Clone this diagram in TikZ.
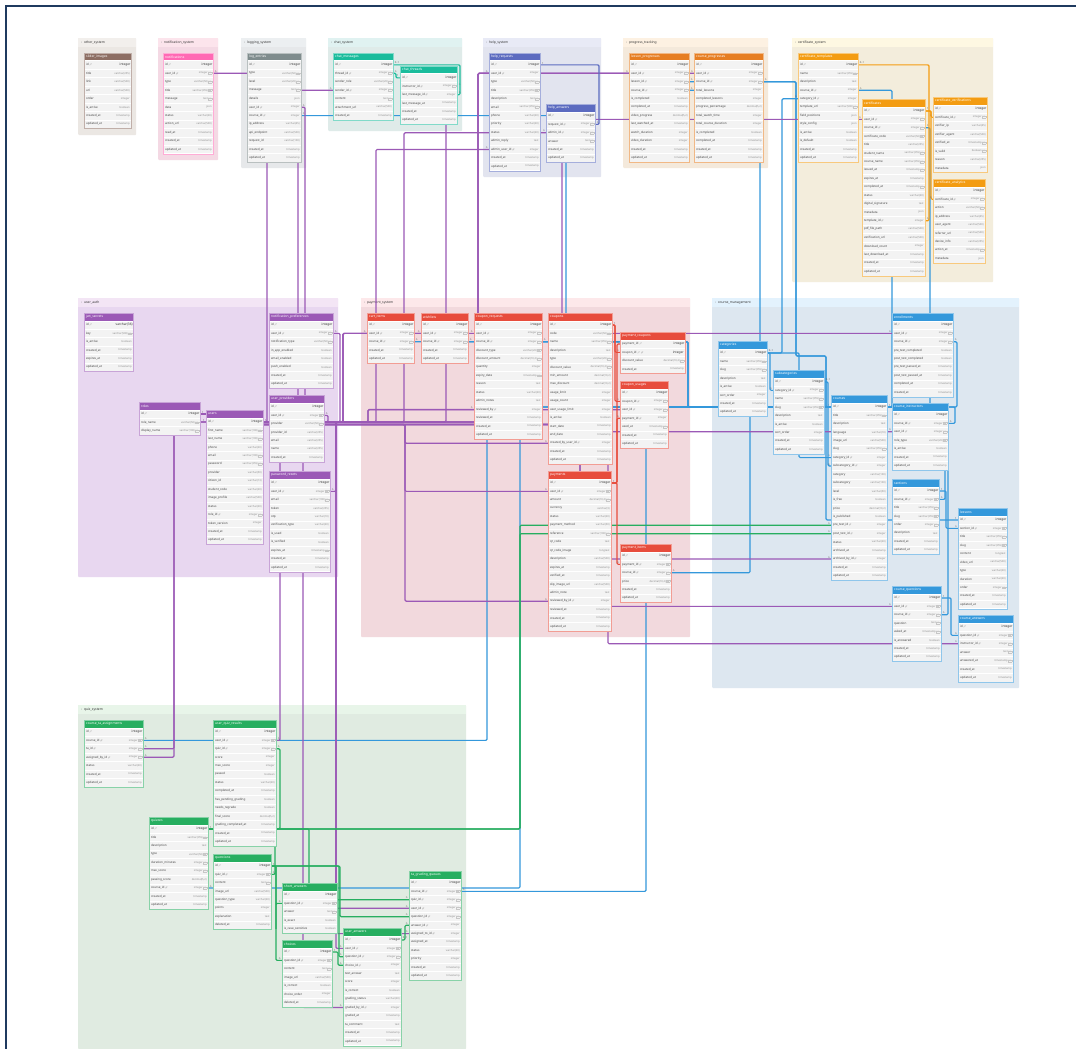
\documentclass[tikz,border=0pt]{standalone}
\usepackage{fontspec}
\setmainfont{Noto Sans}
\newfontfamily\emofont{Noto Emoji}
\pgfdeclarelayer{groups}
\pgfdeclarelayer{links}
\pgfsetlayers{groups,links,main}
% header colours
\definecolor{cSlider}{HTML}{8D6E63}
\definecolor{cNotif}{HTML}{FF69B4}
\definecolor{cLog}{HTML}{7F8C8D}
\definecolor{cChat}{HTML}{1ABC9C}
\definecolor{cHelp}{HTML}{5C6BC0}
\definecolor{cProg}{HTML}{E67E22}
\definecolor{cCert}{HTML}{F39C12}
\definecolor{cAuth}{HTML}{9B59B6}
\definecolor{cPay}{HTML}{E74C3C}
\definecolor{cCourse}{HTML}{3498DB}
\definecolor{cQuiz}{HTML}{27AE60}
% group colours
\definecolor{gOther}{HTML}{EBE7E3}\definecolor{bOther}{HTML}{F2EFEC}
\definecolor{gNotif}{HTML}{F4D9E4}\definecolor{bNotif}{HTML}{FCE4EC}
\definecolor{gLog}{HTML}{E6E8EA}\definecolor{bLog}{HTML}{ECEFF1}
\definecolor{gChat}{HTML}{DFEBE9}\definecolor{bChat}{HTML}{E0F2F1}
\definecolor{gHelp}{HTML}{E2E4EF}\definecolor{bHelp}{HTML}{E8EAF6}
\definecolor{gProg}{HTML}{F4E9DB}\definecolor{bProg}{HTML}{FDF1E2}
\definecolor{gCert}{HTML}{F3EDDC}\definecolor{bCert}{HTML}{FEF8E2}
\definecolor{gAuth}{HTML}{E8D7F0}\definecolor{bAuth}{HTML}{F3E5F5}
\definecolor{gPay}{HTML}{F2D9DD}\definecolor{bPay}{HTML}{FDE8EA}
\definecolor{gCourse}{HTML}{DDE7F0}\definecolor{bCourse}{HTML}{E3F2FD}
\definecolor{gQuiz}{HTML}{E0EBE1}\definecolor{bQuiz}{HTML}{E8F5E9}
\definecolor{frameC}{HTML}{1F3A5F}
\definecolor{rowC}{HTML}{F3F3F3}

\newcommand\NN{\kern0.5pt{\fboxsep=0.2pt\fboxrule=0.12pt\fcolorbox{black!22}{black!5}{\fontsize{1.8}{1.8}\selectfont\color{black!45}NN}}}
\newcommand\FK{\kern0.6pt{\emofont\fontsize{2.1}{2.1}\selectfont\color{black!50}🔗}}
\newcommand\PK{\kern0.8pt{\emofont\fontsize{2.2}{2.2}\selectfont\color{black!50}🔑}}
\newcommand\B[1]{{\fontsize{3.2}{3.4}\selectfont\bfseries\color{black!80}#1}}

\tikzset{
  thead/.style={inner sep=0pt, minimum height=7.5pt},
  ttitle/.style={inner sep=0pt, text=white, font=\fontsize{3.3}{3.5}\selectfont},
  trow/.style={inner sep=0pt, minimum height=8.45pt, fill=rowC, draw=white, line width=0.35pt},
  fname/.style={inner sep=0pt, text=black!72, font=\fontsize{3}{3.2}\selectfont},
  ftype/.style={inner sep=0pt, text=black!45, font=\fontsize{2.6}{2.8}\selectfont},
  ftypepk/.style={inner sep=0pt, text=black!80, font=\fontsize{3.2}{3.4}\selectfont\bfseries},
  tframe/.style={line width=0.35pt},
  grpbox/.style={inner sep=0pt, rounded corners=1pt},
  glabel/.style={inner sep=0pt, text=black!80, font=\fontsize{3.3}{3.5}\selectfont\bfseries},
  rel/.style={line width=1.2pt, rounded corners=1.2pt},
  pu/.style={rel, draw=cAuth},
  bl/.style={rel, draw=cCourse},
  gr/.style={rel, draw=cQuiz},
  rd/.style={rel, draw=cPay},
  orr/.style={rel, draw=cCert},
  te/.style={rel, draw=cChat},
  ind/.style={rel, draw=cHelp},
  card/.style={inner sep=0.3pt, text=black!65, font=\fontsize{2.6}{2.6}\selectfont},
  ae/.style={card, anchor=south west, xshift=0.5pt},
  aw/.style={card, anchor=south east, xshift=-0.5pt},
  frameline/.style={draw=frameC, line width=2.3pt}
}

\catcode`\_=12

% table: name, x, y(top), width, colour, rows
\newcommand\erT[6]{%
  \node[thead, fill=#5, minimum width=#4pt, anchor=north west] (#1) at (#2,#3) {};
  \node[ttitle, anchor=west] (#1-title) at ([xshift=2pt]#1.west) {#1};
  \foreach \f/\t [count=\i] in {#6}{%
    \node[trow, minimum width=#4pt, anchor=north west] (#1-\i) at (#2,{#3+7.5+(\i-1)*8.45}) {};
    \ifnum\i=1
      \node[fname, anchor=west] (#1-\i-n) at ([xshift=1.8pt]#1-\i.west) {\f\PK};
      \node[ftypepk, anchor=east] (#1-\i-t) at ([xshift=-0.6pt]#1-\i.east) {\t};
    \else
      \node[fname, anchor=west] (#1-\i-n) at ([xshift=1.8pt]#1-\i.west) {\f};
      \node[ftype, anchor=east] (#1-\i-t) at ([xshift=-1.5pt]#1-\i.east) {\t};
    \fi
    \xdef\erLast{\i}%
  }
  \draw[tframe, draw=#5!55] (#1.north west) rectangle (#1-\erLast.south east);
}
% group: name, x1, y1, x2, y2, body colour, band colour
\newcommand\erG[7]{%
  \node[grpbox, fill=#6, minimum width={#4pt-#2pt}, minimum height={#5pt-#3pt}, anchor=north west] (#1) at (#2,#3) {};
  \node[inner sep=0pt, fill=#7, minimum width={#4pt-#2pt}, minimum height=9pt, anchor=north west] (#1-band) at (#2,#3) {};
  \node[glabel, anchor=west] (#1-label) at ([xshift=3pt]#1-band.west) {\textcolor{black!45}{›}\hspace{1.8pt}#1};
}

\begin{document}
\begin{tikzpicture}[x=1pt, y=-1pt]
\useasboundingbox (0,0) rectangle (1076,1049);

\begin{pgfonlayer}{groups}
\fill[white] (0,0) rectangle (1076,1049);
\erG{other_system}{78}{38}{136}{135}{gOther}{bOther}
\erG{notification_system}{158}{38}{218}{160}{gNotif}{bNotif}
\erG{logging_system}{241}{38}{306}{168}{gLog}{bLog}
\erG{chat_system}{328}{38}{462}{131}{gChat}{bChat}
\erG{help_system}{483}{38}{601}{177}{gHelp}{bHelp}
\erG{progress_tracking}{623}{38}{768}{168}{gProg}{bProg}
\erG{certificate_system}{792}{38}{993}{282}{gCert}{bCert}
\erG{user_auth}{78}{298}{338}{577}{gAuth}{bAuth}
\erG{payment_system}{361}{298}{690}{637}{gPay}{bPay}
\erG{course_management}{712}{298}{1019}{688}{gCourse}{bCourse}
\erG{quiz_system}{78}{705}{466}{1049}{gQuiz}{bQuiz}
\draw[frameline] (6,1049) -- (6,6) -- (1076,6);
\end{pgfonlayer}

% ---------------- tables ----------------
\erT{slider_images}{84}{53}{47}{cSlider}{id/integer, title/varchar(255), link/varchar(500), url/varchar(500), order/integer, is_active/boolean, created_at/timestamp, updated_at/timestamp}
\erT{notifications}{163}{53}{50}{cNotif}{id/integer, user_id\FK/integer\NN, type/varchar(50)\NN, title/varchar(255)\NN, message/text\NN, data/json, status/varchar(20), action_url/varchar(500), read_at/timestamp, created_at/timestamp, updated_at/timestamp}
\erT{log_entries}{247}{53}{54}{cLog}{id/integer, type/varchar(50)\NN, level/varchar(20)\NN, message/text\NN, details/json, user_id\FK/integer, course_id\FK/integer, ip_address/varchar(45), api_endpoint/varchar(500), request_id/varchar(100), created_at/timestamp, updated_at/timestamp}
\erT{chat_messages}{333}{53}{60}{cChat}{id/integer, thread_id\FK/integer\NN, sender_role/varchar(20)\NN, sender_id\FK/integer\NN, content/text\NN, attachment_url/varchar(500), created_at/timestamp}
\erT{chat_threads}{400}{66}{57}{cChat}{id/integer, instructor_id\FK/integer\NN, last_message_id\FK/integer, last_message_at/timestamp, created_at/timestamp, updated_at/timestamp}
\erT{help_requests}{489}{53}{51}{cHelp}{id/integer, user_id\FK/integer, type/varchar(50)\NN, title/varchar(255)\NN, description/text\NN, email/varchar(255)\NN, phone/varchar(20), priority/varchar(20), status/varchar(20), admin_reply/text, admin_user_id\FK/integer, created_at/timestamp, updated_at/timestamp}
\erT{help_answers}{546}{104}{49}{cHelp}{id/integer, request_id\FK/integer\NN, admin_id\FK/integer\NN, answer/text\NN, created_at/timestamp, updated_at/timestamp}
\erT{lesson_progresses}{629}{53}{60}{cProg}{id/integer, user_id\FK/integer\NN, lesson_id\FK/integer\NN, course_id\FK/integer\NN, is_completed/boolean, completed_at/timestamp, video_progress/{decimal(5,2)}, last_watched_at/timestamp, watch_duration/integer, video_duration/integer, created_at/timestamp, updated_at/timestamp}
\erT{course_progresses}{694}{53}{69}{cProg}{id/integer, user_id\FK/integer\NN, course_id\FK/integer\NN, total_lessons/integer, completed_lessons/integer, progress_percentage/{decimal(5,2)}, total_watch_time/integer, total_course_duration/integer, is_completed/boolean, completed_at/timestamp, created_at/timestamp, updated_at/timestamp}
\erT{certificate_templates}{798}{53}{60}{cCert}{id/integer, name/varchar(255)\NN, description/text, course_id\FK/integer, category_id\FK/integer, template_url/varchar(500)\NN, field_positions/json, style_config/json, is_active/boolean, is_default/boolean, created_at/timestamp, updated_at/timestamp}
\erT{certificates}{862}{99}{63}{cCert}{id/integer, user_id\FK/integer\NN, course_id\FK/integer\NN, certificate_code/varchar(50)\NN, title/varchar(255), student_name/varchar(255)\NN, course_name/varchar(255)\NN, issued_at/timestamp\NN, expires_at/timestamp, completed_at/timestamp\NN, status/varchar(20), digital_signature/text, metadata/json, template_id\FK/integer, pdf_file_path/varchar(500), verification_url/varchar(500), download_count/integer, last_download_at/timestamp, created_at/timestamp, updated_at/timestamp}
\erT{certificate_verifications}{933}{97}{54}{cCert}{id/integer, certificate_id\FK/integer\NN, verifier_ip/varchar(45), verifier_agent/varchar(500), verified_at/timestamp\NN, is_valid/boolean\NN, reason/varchar(255), metadata/json}
\erT{certificate_analytics}{933}{179}{52}{cCert}{id/integer, certificate_id\FK/integer\NN, action/varchar(50)\NN, ip_address/varchar(45), user_agent/varchar(500), referrer_url/varchar(500), device_info/varchar(255), action_at/timestamp\NN, metadata/json}

\erT{jwt_secrets}{84}{313}{49}{cAuth}{id/varchar(36), key/varchar(500)\NN, is_active/boolean, created_at/timestamp, expires_at/timestamp, updated_at/timestamp}
\erT{roles}{139}{402}{61}{cAuth}{id/integer, role_name/varchar(50)\NN, display_name/varchar(100)\NN}
\erT{users}{206}{410}{57}{cAuth}{id/integer, first_name/varchar(100)\NN, last_name/varchar(100)\NN, phone/varchar(20), email/varchar(100)\NN, password/varchar(255)\NN, provider/varchar(50), citizen_id/varchar(13), student_code/varchar(20), image_profile/varchar(500), status/varchar(20), role_id\FK/integer\NN, token_version/integer, created_at/timestamp, updated_at/timestamp}
\erT{notification_preferences}{269}{313}{64}{cAuth}{id/integer, user_id\FK/integer\NN, notification_type/varchar(50)\NN, in_app_enabled/boolean, email_enabled/boolean, push_enabled/boolean, created_at/timestamp, updated_at/timestamp}
\erT{user_providers}{269}{395}{55}{cAuth}{id/integer, user_id\FK/integer\NN, provider/varchar(50)\NN, provider_id/varchar(255), email/varchar(255), name/varchar(255), created_at/timestamp}
\erT{password_resets}{269}{471}{61}{cAuth}{id/integer, user_id\FK/integer\NN, email/varchar(100)\NN, token/varchar(255), otp/varchar(10), verification_type/varchar(20), is_used/boolean, is_verified/boolean, expires_at/timestamp\NN, created_at/timestamp, updated_at/timestamp}

\erT{cart_items}{367}{313}{47}{cPay}{id/integer, user_id\FK/integer\NN, course_id\FK/integer\NN, created_at/timestamp, updated_at/timestamp}
\erT{wishlists}{421}{313}{47}{cPay}{id/integer, user_id\FK/integer\NN, course_id\FK/integer\NN, created_at/timestamp, updated_at/timestamp}
\erT{coupon_requests}{474}{313}{68}{cPay}{id/integer, user_id\FK/integer\NN, course_id\FK/integer\NN, discount_type/varchar(20)\NN, discount_amount/{decimal(10,2)\NN}, quantity/integer, expiry_date/timestamp\NN, reason/text, status/varchar(20), admin_notes/text, reviewed_by\FK/integer, reviewed_at/timestamp, created_at/timestamp, updated_at/timestamp}
\erT{coupons}{548}{313}{64}{cPay}{id/integer, code/varchar(50)\NN, name/varchar(255)\NN, description/text, type/varchar(20)\NN, discount_value/{decimal(10,2)\NN}, min_amount/{decimal(10,2)}, max_discount/{decimal(10,2)}, usage_limit/integer, usage_count/integer, user_usage_limit/integer, is_active/boolean, start_date/timestamp, end_date/timestamp, created_by_user_id\FK/integer, created_at/timestamp, updated_at/timestamp}
\erT{payment_coupons}{620}{332}{65}{cPay}{payment_id/integer, coupon_id\PK\FK/\B{integer}, discount_value/{decimal(10,2)\NN}, created_at/timestamp}
\erT{coupon_usages}{620}{381}{48}{cPay}{id/integer, coupon_id\FK/integer\NN, user_id\FK/integer\NN, payment_id\FK/integer, used_at/timestamp\NN, created_at/timestamp, updated_at/timestamp}
\erT{payments}{548}{471}{63}{cPay}{id/integer, user_id\FK/integer\NN, amount/{decimal(10,2)\NN}, currency/varchar(3), status/varchar(20), payment_method/varchar(50), reference/varchar(100)\NN, qr_code/text, qr_code_image/longtext, description/varchar(500), expires_at/timestamp, verified_at/timestamp, slip_image_url/varchar(500), admin_note/text, reviewed_by_id\FK/integer, reviewed_at/timestamp, created_at/timestamp, updated_at/timestamp}
\erT{payment_items}{620}{544}{51}{cPay}{id/integer, payment_id\FK/integer\NN, course_id\FK/integer\NN, price/{decimal(10,2)\NN}, created_at/timestamp, updated_at/timestamp}

\erT{categories}{718}{341}{49}{cCourse}{id/integer, name/varchar(255)\NN, slug/varchar(255)\NN, description/text, is_active/boolean, sort_order/integer, created_at/timestamp, updated_at/timestamp}
\erT{subcategories}{773}{370}{51}{cCourse}{id/integer, category_id\FK/integer\NN, name/varchar(255)\NN, slug/varchar(255)\NN, description/text, is_active/boolean, sort_order/integer, created_at/timestamp, updated_at/timestamp}
\erT{courses}{831}{395}{56}{cCourse}{id/integer, title/varchar(255)\NN, description/text, language/varchar(10), image_url/varchar(500), slug/varchar(255)\NN, category_id\FK/integer, subcategory_id\FK/integer, category/varchar(100), subcategory/varchar(100), level/varchar(50), is_free/boolean, price/{decimal(10,2)}, is_published/boolean, pre_test_id\FK/integer, post_test_id\FK/integer, status/varchar(20), archived_at/timestamp, archived_by_id\FK/integer, created_at/timestamp, updated_at/timestamp}
\erT{enrollments}{892}{313}{61}{cCourse}{id/integer, user_id\FK/integer\NN, course_id\FK/integer\NN, pre_test_completed/boolean, post_test_completed/boolean, pre_test_passed_at/timestamp, post_test_passed_at/timestamp, completed_at/timestamp, created_at/timestamp}
\erT{course_instructors}{892}{403}{56}{cCourse}{id/integer, course_id\FK/integer\NN, user_id\FK/integer\NN, role_type/varchar(20)\NN, is_active/boolean, created_at/timestamp, updated_at/timestamp}
\erT{sections}{892}{479}{47}{cCourse}{id/integer, course_id\FK/integer\NN, title/varchar(255)\NN, slug/varchar(255)\NN, order/integer\NN, description/text, created_at/timestamp, updated_at/timestamp}
\erT{lessons}{958}{508}{49}{cCourse}{id/integer, section_id\FK/integer\NN, title/varchar(255)\NN, slug/varchar(255)\NN, content/longtext, video_url/varchar(500), type/varchar(20), duration/varchar(20), order/integer\NN, created_at/timestamp, updated_at/timestamp}
\erT{course_questions}{892}{586}{49}{cCourse}{id/integer, user_id\FK/integer\NN, course_id\FK/integer\NN, question/text\NN, asked_at/timestamp\NN, is_answered/boolean, created_at/timestamp, updated_at/timestamp}
\erT{course_answers}{958}{615}{55}{cCourse}{id/integer, question_id\FK/integer\NN, instructor_id\FK/integer\NN, answer/text\NN, answered_at/timestamp\NN, created_at/timestamp, updated_at/timestamp}

\erT{course_ta_assignments}{84}{720}{59}{cQuiz}{id/integer, course_id\FK/integer\NN, ta_id\FK/integer\NN, assigned_by_id\FK/integer\NN, status/varchar(20), created_at/timestamp, updated_at/timestamp}
\erT{user_quiz_results}{213}{720}{63}{cQuiz}{id/integer, user_id\FK/integer\NN, quiz_id\FK/integer\NN, score/integer, max_score/integer, passed/boolean, status/varchar(20), completed_at/timestamp, has_pending_grading/boolean, needs_regrade/boolean, final_score/{decimal(5,2)}, grading_completed_at/timestamp, created_at/timestamp, updated_at/timestamp}
\erT{quizzes}{149}{817}{59}{cQuiz}{id/integer, title/varchar(255)\NN, description/text, type/varchar(50)\NN, duration_minutes/integer\NN, max_score/integer\NN, passing_score/{decimal(5,2)}, course_id\FK/integer\NN, created_at/timestamp, updated_at/timestamp}
\erT{questions}{213}{854}{58}{cQuiz}{id/integer, quiz_id\FK/integer\NN, content/text\NN, image_url/varchar(500), question_type/varchar(20), points/integer, explanation/text, deleted_at/timestamp}
\erT{short_answers}{282}{883}{55}{cQuiz}{id/integer, question_id\FK/integer\NN, answer/text\NN, is_exact/boolean, is_case_sensitive/boolean}
\erT{choices}{282}{940}{50}{cQuiz}{id/integer, question_id\FK/integer\NN, content/text\NN, image_url/varchar(500), is_correct/boolean, choice_order/integer, deleted_at/timestamp}
\erT{user_answers}{343}{928}{58}{cQuiz}{id/integer, user_id\FK/integer\NN, question_id\FK/integer\NN, choice_id\FK/integer, text_answer/text, score/integer, is_correct/boolean, grading_status/varchar(20), graded_by_id\FK/integer, graded_at/timestamp, ta_comment/text, created_at/timestamp, updated_at/timestamp}
\erT{ta_grading_queues}{409}{871}{52}{cQuiz}{id/integer, course_id\FK/integer\NN, quiz_id\FK/integer\NN, user_id\FK/integer\NN, question_id\FK/integer\NN, answer_id\FK/integer, assigned_to_id\FK/integer, assigned_at/timestamp, status/varchar(20), priority/integer, created_at/timestamp, updated_at/timestamp}

% ---------------- connectors ----------------
\begin{pgfonlayer}{links}
% blue: course relations
\draw[bl] (log_entries-7.east) node[ae]{n} -| (566,300) |- (courses-1.west) node[aw]{1};
\draw[bl] (cart_items-3.east) node[ae]{n} -| (688,380) |- (courses-1.west);
\draw[bl] (wishlists-3.east) node[ae]{n} -| (688,380) |- (courses-1.west);
\draw[bl] (coupon_requests-3.east) node[ae]{n} -| (688,380) |- (courses-1.west);
\draw[bl] (payment_items-3.east) node[ae]{n} -| (750,500) |- (courses-1.west);
\draw[bl] (course_ta_assignments-2.east) node[ae]{n} -| (487,600) |- (courses-1.west);
\draw[bl] (quizzes-8.east) node[ae]{n} -| (520,700) |- (courses-1.west);
\draw[bl] (ta_grading_queues-2.east) node[ae]{n} -| (646,700) |- (courses-1.west);
\draw[bl] (lesson_progresses-4.east) node[ae]{n} -| (760,300) |- (courses-1.west);
\draw[bl] (lesson_progresses-3.east) node[ae]{n} -| (796,356) -| (826,450) |- (lessons-1.west) node[aw]{1};
\draw[bl] (course_progresses-3.east) node[ae]{n} -| (796,356) -| (826,380) |- (courses-1.west);
\draw[bl] (certificate_templates-4.east) node[ae]{n} -| (892,300) |- (courses-1.east) node[ae]{1};
\draw[bl] (certificates-3.east) node[ae]{n} -| (930,300) |- (courses-1.east);
\draw[bl] (enrollments-3.east) node[ae]{n} -| (957,380) |- (courses-1.east);
\draw[bl] (course_instructors-2.east) node[ae]{n} -| (955,415) |- (courses-1.east);
\draw[bl] (sections-2.east) node[ae]{n} -| (945,450) |- (courses-1.east);
\draw[bl] (sections-1.east) node[ae]{1} -| (946,510) |- (lessons-2.west) node[aw]{n};
\draw[bl] (course_questions-3.east) node[ae]{n} -| (948,500) |- (courses-1.east);
\draw[bl] (course_questions-1.east) node[ae]{1} -| (951,620) |- (course_answers-2.west) node[aw]{n};
\draw[bl] (categories-1.east) node[ae]{0..1} -| (770,370) |- (subcategories-2.west) node[aw]{n};
\draw[bl] (categories-1.east) -| (799,400) |- (courses-7.west) node[aw]{n};
\draw[bl] (categories-1.east) -| (782,200) |- (certificate_templates-5.west) node[aw]{n};
\draw[bl] (subcategories-1.east) node[ae]{0..1} -| (828,420) |- (courses-8.west) node[aw]{n};
% purple: user relations
\draw[pu] (users-1.east) node[ae]{1} -| (267,300) |- (notifications-2.east) node[ae]{n};
\draw[pu] (users-1.east) -| (305,300) |- (log_entries-6.east) node[ae]{n};
\draw[pu] (users-1.east) -| (298,300) |- (chat_messages-4.west) node[aw]{n};
\draw[pu] (users-1.east) -| (446,300) |- (chat_threads-2.east) node[ae]{n};
\draw[pu] (users-1.east) -| (478,300) |- (help_requests-2.west) node[aw]{n};
\draw[pu] (users-1.east) -| (478,300) |- (lesson_progresses-2.west) node[aw]{n};
\draw[pu] (users-1.east) -| (478,300) |- (course_progresses-2.west) node[aw]{n};
\draw[pu] (users-1.east) -| (376,300) |- (help_requests-11.west) node[aw]{n};
\draw[pu] (users-1.east) -| (404,300) |- (help_answers-3.west) node[aw]{n};
\draw[pu] (users-1.east) -| (340,380) |- (notification_preferences-2.east) node[ae]{n};
\draw[pu] (users-1.east) -| (343,380) |- (cart_items-2.west) node[aw]{n};
\draw[pu] (users-1.east) -| (343,380) |- (wishlists-2.west) node[aw]{n};
\draw[pu] (users-1.east) -| (343,380) |- (coupon_requests-2.west) node[aw]{n};
\draw[pu] (users-1.east) -| (368,415) |- (coupon_requests-11.west) node[aw]{n};
\draw[pu] (users-1.east) -| (368,415) |- (coupon_usages-3.west) node[aw]{n};
\draw[pu] ([yshift=-2.6pt]users-1.east) -| (405,430) |- (coupons-15.west) node[aw]{n};
\draw[pu] ([yshift=-2.6pt]users-1.east) -| (405,430) |- (payments-2.west) node[aw]{n};
\draw[pu] ([yshift=-2.6pt]users-1.east) -| (405,430) |- (payments-15.west) node[aw]{n};
\draw[pu] ([yshift=-2.6pt]users-1.east) -| (562,300) |- (certificates-2.west) node[aw]{n};
\draw[pu] ([yshift=-2.6pt]users-1.east) -| (580,380) |- (enrollments-2.west) node[aw]{n};
\draw[pu] ([yshift=-2.6pt]users-1.east) -| (580,428) |- (course_instructors-3.west) node[aw]{n};
\draw[pu] ([yshift=-2.6pt]users-1.east) -| (580,500) |- (courses-19.west) node[aw]{n};
\draw[pu] ([yshift=-2.6pt]users-1.east) -| (580,500) |- (course_questions-2.west) node[aw]{n};
\draw[pu] ([yshift=-2.6pt]users-1.east) -| (608,500) |- (course_answers-3.west) node[aw]{n};
\draw[pu] (users-1.east) -| (328,418) |- (user_providers-2.east) node[ae]{n};
\draw[pu] (users-1.east) -| (336,450) |- (password_resets-2.east) node[ae]{n};
\draw[pu] (users-1.east) -| (280,600) |- (user_quiz_results-2.east) node[ae]{n};
\draw[pu] (users-1.east) -| (303,700) |- (user_answers-9.west) node[aw]{n};
\draw[pu] (users-1.east) -| (336,700) |- (user_answers-2.west) node[aw]{n};
\draw[pu] (users-1.east) -| (336,700) |- (ta_grading_queues-4.west) node[aw]{n};
\draw[pu] (users-1.east) -| (336,700) |- (ta_grading_queues-7.west) node[aw]{n};
\draw[pu] (users-1.west) node[aw]{1} -| (174,600) |- (course_ta_assignments-3.east) node[ae]{n};
\draw[pu] (users-1.west) -| (174,600) |- (course_ta_assignments-4.east) node[ae]{n};
\draw[pu] (roles-1.east) node[ae]{1} -- (roles-1.east -| users.west);
% green: quiz relations
\draw[gr] (quizzes-1.east) node[ae]{1} -| (520,700) |- (courses-15.west) node[aw]{n};
\draw[gr] (quizzes-1.east) -| (520,700) |- (courses-16.west) node[aw]{n};
\draw[gr] (quizzes-1.east) -| (280,780) |- (user_quiz_results-3.east) node[ae]{n};
\draw[gr] (quizzes-1.east) -| (275,850) |- (questions-2.east) node[ae]{n};
\draw[gr] (quizzes-1.east) -| (309,860) |- (ta_grading_queues-3.west) node[aw]{n};
\draw[gr] (questions-1.east) node[ae]{1} -| (276,930) |- (short_answers-2.west) node[aw]{n};
\draw[gr] (questions-1.east) -| (276,930) |- (choices-2.west) node[aw]{n};
\draw[gr] (questions-1.east) -| (340,900) |- (ta_grading_queues-5.west) node[aw]{n};
\draw[gr] (questions-1.east) -| (339,920) |- (user_answers-3.west) node[aw]{n};
\draw[gr] (choices-1.east) node[ae]{1} -| (338,958) |- (user_answers-4.west) node[aw]{n};
\draw[gr] (user_answers-1.east) node[ae]{0..1} -| (405,930) |- (ta_grading_queues-6.west) node[aw]{n};
% red: payment relations
\draw[rd] (coupons-1.east) node[ae]{1} -| (615,340) |- (payment_coupons-2.west) node[aw]{n};
\draw[rd] (coupons-1.east) -| (615,360) |- (coupon_usages-2.west) node[aw]{n};
\draw[rd] (payments-1.east) node[ae]{1} -| (617,400) |- (payment_coupons-1.west) node[aw]{n};
\draw[rd] (payments-1.east) -| (617,450) |- (coupon_usages-4.west) node[aw]{n};
\draw[rd] (payments-1.east) -| (617,520) |- (payment_items-2.west) node[aw]{n};
% orange: certificates
\draw[orr] (certificate_templates-1.east) node[ae]{0..1} -| (929,150) |- (certificates-14.east) node[ae]{n};
\draw[orr] (certificates-1.east) node[ae]{1} -| (931,115) |- (certificate_verifications-2.west) node[aw]{n};
\draw[orr] (certificates-1.east) -| (931,150) |- (certificate_analytics-2.west) node[aw]{n};
% teal: chat
\draw[te] (chat_threads-1.west) node[aw]{1} -| (396,75) |- (chat_messages-2.east) node[ae]{n};
\draw[te] (chat_messages-1.east) node[ae]{0..1} -| (460,80) |- (chat_threads-3.east) node[ae]{n};
% indigo: help
\draw[ind] (help_requests-1.east) node[ae]{1} -| (599,100) |- (help_answers-2.east) node[ae]{n};
\end{pgfonlayer}
\end{tikzpicture}
\end{document}
